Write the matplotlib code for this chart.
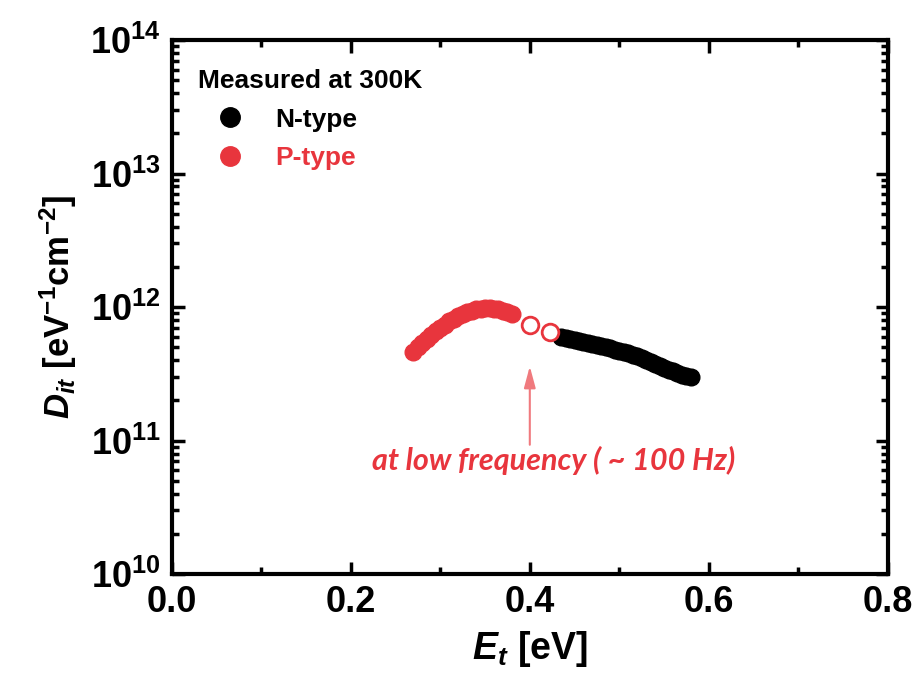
import matplotlib
matplotlib.use("Agg")
import matplotlib.pyplot as plt
from matplotlib.ticker import LogLocator, MultipleLocator
from matplotlib.lines import Line2D

# data (Dit in units of 1e11 eV^-1 cm^-2)
p_et = [0.270, 0.275, 0.280, 0.285, 0.290, 0.295, 0.300, 0.305, 0.310, 0.315,
        0.320, 0.325, 0.330, 0.335, 0.340, 0.345, 0.350, 0.355, 0.360, 0.365,
        0.370, 0.375, 0.380]
p_dit = [4.6, 5.0, 5.4, 5.8, 6.2, 6.6, 7.0, 7.4, 7.8, 8.2,
         8.6, 8.9, 9.2, 9.4, 9.6, 9.7, 9.8, 9.8, 9.7, 9.6,
         9.4, 9.2, 8.9]

lf_et = [0.400, 0.423]
lf_dit = [7.4, 6.5]

n_et = [0.435, 0.440, 0.445, 0.450, 0.455, 0.460, 0.465, 0.470, 0.475, 0.480,
        0.485, 0.490, 0.495, 0.500, 0.505, 0.510, 0.515, 0.520, 0.525, 0.530,
        0.535, 0.540, 0.545, 0.550, 0.555, 0.560, 0.565, 0.570, 0.575, 0.580]
n_dit = [6.0, 5.9, 5.8, 5.7, 5.6, 5.5, 5.4, 5.3, 5.2, 5.1,
         5.0, 4.9, 4.8, 4.7, 4.6, 4.5, 4.4, 4.3, 4.15, 4.0,
         3.9, 3.75, 3.6, 3.5, 3.4, 3.3, 3.2, 3.1, 3.05, 3.0]

RED = "#e8353d"
ARROW_RED = "#f07a7e"

plt.rcParams["font.family"] = ["Liberation Sans", "DejaVu Sans"]
plt.rcParams["font.weight"] = "bold"
plt.rcParams["axes.labelweight"] = "bold"
plt.rcParams["mathtext.fontset"] = "custom"
plt.rcParams["mathtext.rm"] = "Liberation Sans:bold"
plt.rcParams["mathtext.it"] = "Liberation Sans:bold:italic"
plt.rcParams["mathtext.bf"] = "Liberation Sans:bold"

fig = plt.figure(figsize=(9.19, 6.9), dpi=100)
ax = fig.add_axes([0.187, 0.168, 0.779, 0.774])

ax.plot(p_et, [v * 1e11 for v in p_dit], "o", color=RED, ms=12, mec=RED)
ax.plot(n_et, [v * 1e11 for v in n_dit], "o", color="black", ms=12)
ax.plot(lf_et, [v * 1e11 for v in lf_dit], "o", mfc="white", mec=RED, mew=2, ms=12)

ax.set_yscale("log")
ax.set_xlim(0, 0.8)
ax.set_ylim(1e10, 1e14)
ax.xaxis.set_major_locator(MultipleLocator(0.2))
ax.xaxis.set_minor_locator(MultipleLocator(0.1))
ax.yaxis.set_major_locator(LogLocator(base=10, numticks=10))
ax.yaxis.set_minor_locator(LogLocator(base=10, subs=range(2, 10), numticks=20))
ax.xaxis.set_major_formatter(plt.FuncFormatter(lambda v, p: f"{v:.1f}"))

for s in ax.spines.values():
    s.set_linewidth(3)
ax.tick_params(which="both", direction="in", width=2.5, labelsize=26, pad=8,
               top=True, right=True)
ax.tick_params(which="major", length=9)
ax.tick_params(which="minor", length=5)

ax.set_xlabel("$E_t$ [eV]", fontsize=27, labelpad=6)
ax.set_ylabel("$D_{it}$ [eV$^{\\mathrm{-1}}$cm$^{\\mathrm{-2}}$]", fontsize=25, labelpad=8)

handles = [
    Line2D([0], [0], marker="o", ls="", color="black", ms=14),
    Line2D([0], [0], marker="o", ls="", color=RED, ms=14),
]
leg = ax.legend(handles, ["N-type", "P-type"], title="Measured at 300K",
                loc="upper left", bbox_to_anchor=(0.0, 0.995), frameon=False,
                fontsize=19, title_fontsize=19, handlelength=2.4,
                handletextpad=0.5, borderaxespad=0.6, labelspacing=0.55,
                alignment="left")
leg.get_title().set_fontweight("bold")
leg.get_texts()[1].set_color(RED)

ax.annotate("", xy=(0.400, 3.6e11), xytext=(0.400, 9.3e10),
            arrowprops=dict(arrowstyle="-|>,head_width=0.35,head_length=1.3",
                            color=ARROW_RED, lw=1.5, shrinkA=0, shrinkB=0))
ax.text(0.427, 7.1e10, "at low frequency ( ~ 100 Hz)", color=RED, fontsize=22,
        family=["Lato", "DejaVu Sans"], style="italic", fontweight="bold",
        ha="center", va="center")

fig.savefig("out.png", dpi=100)
